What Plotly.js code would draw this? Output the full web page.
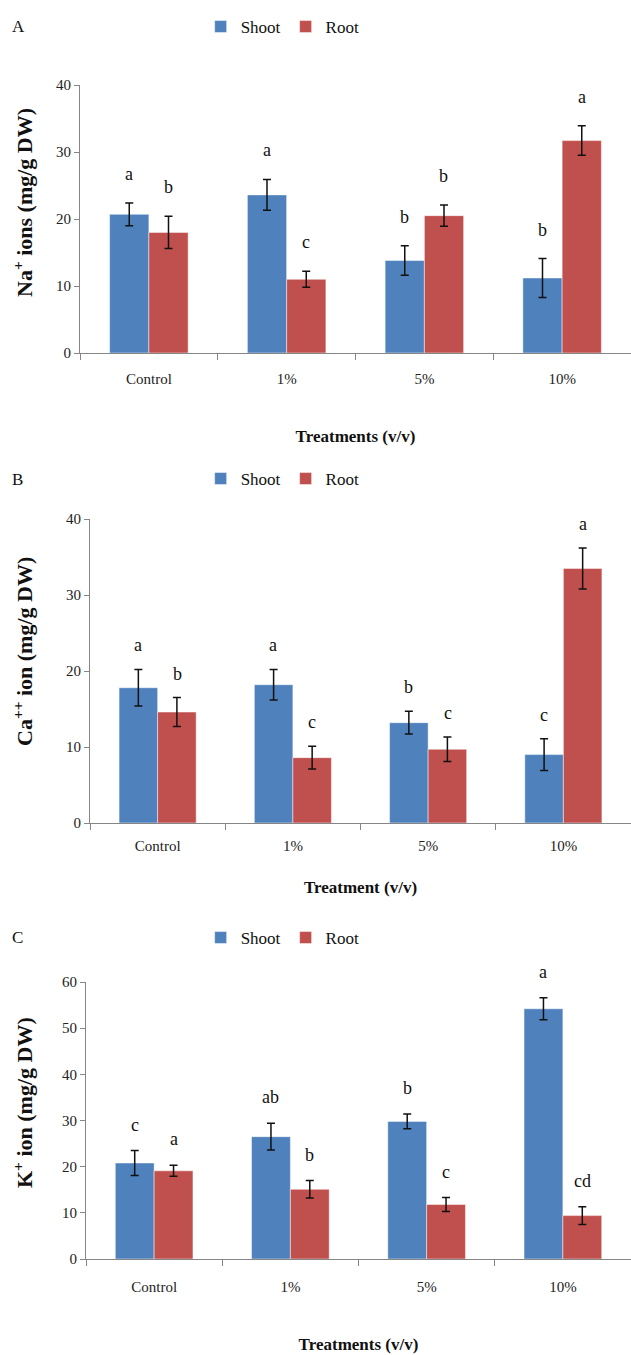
<!DOCTYPE html>
<html>
<head>
<meta charset="utf-8">
<script src="https://cdn.plot.ly/plotly-3.0.1.min.js"></script>
<style>html,body{margin:0;padding:0;background:#fff;}#chart{width:631px;height:1355px;}</style>
</head>
<body>
<div id="chart"></div>
<script>
// ---- data ----
const categories = ["Control", "1%", "5%", "10%"];
const seriesNames = ["Shoot", "Root"];

const naShoot = [20.7, 23.6, 13.8, 11.2];
const naShootErr = [1.7, 2.3, 2.2, 2.9];
const naRoot = [18.0, 11.0, 20.5, 31.7];
const naRootErr = [2.4, 1.2, 1.6, 2.2];
const naShootLetters = ["a", "a", "b", "b"];
const naRootLetters = ["b", "c", "b", "a"];

const caShoot = [17.8, 18.2, 13.2, 9.0];
const caShootErr = [2.4, 2.0, 1.5, 2.1];
const caRoot = [14.6, 8.6, 9.7, 33.5];
const caRootErr = [1.9, 1.5, 1.6, 2.7];
const caShootLetters = ["a", "a", "b", "c"];
const caRootLetters = ["b", "c", "c", "a"];

const kShoot = [20.8, 26.5, 29.8, 54.2];
const kShootErr = [2.7, 2.9, 1.6, 2.4];
const kRoot = [19.1, 15.1, 11.8, 9.4];
const kRootErr = [1.2, 1.9, 1.5, 1.9];
const kShootLetters = ["c", "ab", "b", "a"];
const kRootLetters = ["a", "b", "c", "cd"];

const panelLabels = ["A", "B", "C"];
const yTitles = ["Na<sup>+</sup> ions (mg/g DW)", "Ca<sup>++</sup> ion (mg/g DW)", "K<sup>+</sup> ion (mg/g DW)"];
const xTitles = ["Treatments (v/v)", "Treatment (v/v)", "Treatments (v/v)"];
const yMax = [40, 40, 60];

// ---- styling ----
const W = 631, H = 1355;
const FONT = "Liberation Serif";
const BLUE = "#4F81BD", RED = "#C0504D", AXIS = "#868686";

const panels = [
  {shoot: naShoot, shootErr: naShootErr, root: naRoot, rootErr: naRootErr, sL: naShootLetters, rL: naRootLetters,
   left: 80, top: 85, bottom: 353, legendY: 27, tlo: 12, xts: 44, ytY: 203, lshift: 29},
  {shoot: caShoot, shootErr: caShootErr, root: caRoot, rootErr: caRootErr, sL: caShootLetters, rL: caRootLetters,
   left: 90, top: 519, bottom: 823, legendY: 479, tlo: 9, xts: 28, ytY: 652, lshift: 24},
  {shoot: kShoot, shootErr: kShootErr, root: kRoot, rootErr: kRootErr, sL: kShootLetters, rL: kRootLetters,
   left: 86, top: 982, bottom: 1259, legendY: 938, tlo: 14, xts: 44, ytY: 1103, lshift: 26}
];

const traces = [];
const annotations = [];
const layout = {
  width: W, height: H,
  margin: {l: 0, r: 0, t: 0, b: 0},
  paper_bgcolor: "#fff", plot_bgcolor: "#fff",
  barmode: "group", bargap: 0.43, bargroupgap: 0,
  font: {family: FONT, color: "#222", size: 15},
  showlegend: true,
  annotations: annotations
};

panels.forEach((p, i) => {
  const n = i === 0 ? "" : String(i + 1);
  const xa = "x" + n, ya = "y" + n;
  const lg = "legend" + n;
  [[p.shoot, p.shootErr, BLUE, seriesNames[0]], [p.root, p.rootErr, RED, seriesNames[1]]].forEach(([vals, err, col, name]) => {
    traces.push({
      type: "bar", x: categories, y: vals, name: name,
      xaxis: xa, yaxis: ya, legend: lg,
      marker: {color: col, line: {color: "rgba(255,255,255,0.6)", width: 0.8}},
      error_y: {type: "data", array: err, visible: true, color: "#111", thickness: 1.5, width: 4},
      hoverinfo: "skip"
    });
  });
  layout["xaxis" + n] = {
    domain: [p.left / W, 1], anchor: ya,
    type: "category", range: [-0.5, 3.5],
    showline: true, linecolor: AXIS, linewidth: 1,
    ticks: "outside", tickson: "boundaries", ticklen: 6, tickcolor: AXIS,
    ticklabelstandoff: p.tlo,
    tickfont: {family: FONT, size: 15, color: "#222"},
    showgrid: false, zeroline: false, fixedrange: true,
    title: {text: "<b>" + xTitles[i] + "</b>", font: {family: FONT, size: 17, color: "#111"}, standoff: p.xts}
  };
  layout["yaxis" + n] = {
    domain: [1 - p.bottom / H, 1 - p.top / H], anchor: xa,
    range: [0, yMax[i]], dtick: 10,
    showline: true, linecolor: AXIS, linewidth: 1,
    ticks: "outside", ticklen: 5, tickcolor: AXIS,
    tickfont: {family: FONT, size: 15, color: "#222"},
    showgrid: false, zeroline: false, fixedrange: true
  };
  layout[lg] = {
    orientation: "h", x: 0.318, xanchor: "left", y: 1 - p.legendY / H, yanchor: "middle",
    font: {family: FONT, size: 17, color: "#111"},
    bgcolor: "rgba(0,0,0,0)", itemclick: false, itemdoubleclick: false, tracegroupgap: 0
  };
  annotations.push({
    xref: "paper", yref: "paper", x: 10 / W, y: 1 - p.legendY / H, xanchor: "left", yanchor: "middle",
    text: panelLabels[i], showarrow: false, font: {family: FONT, size: 17, color: "#111"}
  });
  annotations.push({
    xref: "paper", yref: "paper", x: 23 / W, y: 1 - p.ytY / H, xanchor: "center", yanchor: "middle",
    textangle: -90, text: "<b>" + yTitles[i] + "</b>", showarrow: false,
    font: {family: FONT, size: 22, color: "#111"}
  });
  categories.forEach((c, k) => {
    annotations.push({xref: xa, yref: ya, x: c, y: p.shoot[k] + p.shootErr[k], xshift: -19.5, yshift: p.lshift,
      text: p.sL[k], showarrow: false, yanchor: "middle", font: {family: FONT, size: 18, color: "#111"}});
    annotations.push({xref: xa, yref: ya, x: c, y: p.root[k] + p.rootErr[k], xshift: 19.5, yshift: p.lshift,
      text: p.rL[k], showarrow: false, yanchor: "middle", font: {family: FONT, size: 18, color: "#111"}});
  });
});

Plotly.newPlot("chart", traces, layout, {staticPlot: true, displayModeBar: false});
</script>
</body>
</html>
